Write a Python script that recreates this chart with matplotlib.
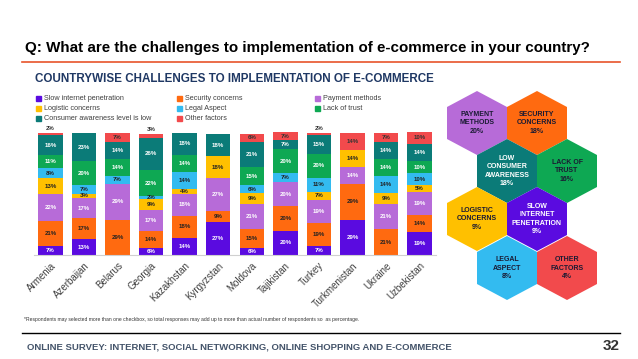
import matplotlib
matplotlib.use('Agg')
import matplotlib.pyplot as plt
from matplotlib.patches import Polygon, Rectangle
import numpy as np

# Data ----
countries = ['Armenia', 'Azerbaijan', 'Belarus', 'Georgia', 'Kazakhstan', 'Kyrgyzstan',
             'Moldova', 'Tajikistan', 'Turkey', 'Turkmenistan', 'Ukraine', 'Uzbekistan']
series_names = ['Slow internet penetration', 'Security concerns', 'Payment methods',
                'Logistic concerns', 'Legal Aspect', 'Lack of trust',
                'Consumer awareness level is low', 'Other factors']
slow = [7, 13, 0, 6, 14, 27, 6, 20, 7, 29, 0, 19]
security = [21, 17, 29, 14, 18, 9, 15, 20, 19, 29, 21, 14]
payment = [22, 17, 29, 17, 18, 27, 21, 20, 19, 14, 21, 19]
logistic = [13, 3, 0, 9, 4, 18, 9, 0, 7, 14, 9, 5]
legal = [8, 7, 7, 2, 14, 0, 6, 7, 11, 0, 14, 10]
trust = [11, 20, 14, 22, 14, 0, 15, 20, 20, 0, 14, 10]
awareness = [16, 23, 14, 26, 18, 18, 21, 7, 15, 0, 14, 14]
other = [2, 0, 7, 3, 0, 0, 6, 7, 2, 14, 7, 10]
series = [slow, security, payment, logistic, legal, trust, awareness, other]

colors = ['#5a0be0', '#ff6a10', '#b76bd8', '#ffc000', '#33bbf0', '#0ea853', '#0b7b78', '#f24a4c']
label_colors = ['white', '#222222', 'white', '#222222', '#222222', 'white', 'white', '#333333']

hex_labels = ['PAYMENT\nMETHODS', 'SECURITY\nCONCERNS', 'LOW\nCONSUMER\nAWARENESS', 'LACK OF\nTRUST',
              'LOGISTIC\nCONCERNS', 'SLOW\nINTERNET\nPENETRATION', 'LEGAL\nASPECT', 'OTHER\nFACTORS']
hex_values = [20, 18, 18, 16, 9, 9, 8, 4]
hex_colors = ['#b76bd8', '#ff6a10', '#0b7b78', '#0ea853', '#ffc000', '#5a0be0', '#33bbf0', '#f24a4c']
hex_text_colors = ['#1a1a33', '#1a1a33', 'white', '#1a1a33', '#1a1a33', 'white', '#1a1a33', '#1a1a33']

plt.rcParams['font.family'] = ['Liberation Sans', 'DejaVu Sans']

fig = plt.figure(figsize=(6.38, 3.59), dpi=100)

# Background canvas in pixel units ----
canvas = fig.add_axes([0, 0, 1, 1])
canvas.set_xlim(0, 638)
canvas.set_ylim(359, 0)
canvas.axis('off')

canvas.text(25, 48, 'Q: What are the challenges to implementation of e-commerce in your country?',
            fontsize=10.9, fontweight='bold', va='center', ha='left', color='black')
canvas.plot([22, 620], [62, 62], color='#e8542a', lw=1.2)
canvas.text(35, 79, 'COUNTRYWISE CHALLENGES TO IMPLEMENTATION OF E-COMMERCE',
            fontsize=8.4, fontweight='bold', va='center', ha='left', color='#1f3864')

# Legend, row-major like the original
leg_x = [36, 177, 315]
leg_y = [98, 108, 118]
for i, name in enumerate(series_names):
    r, c = i // 3, i % 3
    canvas.add_patch(Rectangle((leg_x[c], leg_y[r] - 2.5), 5, 5, color=colors[i]))
    canvas.text(leg_x[c] + 8, leg_y[r], name, fontsize=5.2, va='center', ha='left', color='#404040')

# Footer
canvas.text(24, 320, '*Respondents may selected more than one checkbox, so total responses may add up to more '
            'than actual number of respondents so  as percentage.',
            fontsize=3.6, va='center', ha='left', color='#333333')
canvas.plot([22, 620], [333, 333], color='black', lw=1.0)
canvas.text(27, 347, 'ONLINE SURVEY: INTERNET, SOCIAL NETWORKING, ONLINE SHOPPING AND E-COMMERCE',
            fontsize=6.8, fontweight='bold', va='center', ha='left', color='#44546a')
canvas.text(620, 346, '32', fontsize=11, fontweight='bold', va='center', ha='right', color='#333333')

# Hexagons
hex_centers = [(477, 123), (537, 123), (507, 171), (567, 171),
               (477, 219), (537, 219), (507, 268), (567, 268)]
w, r = 30, 32
for (cx, cy), lab, val, col, tcol in zip(hex_centers, hex_labels, hex_values, hex_colors, hex_text_colors):
    verts = [(cx, cy - r), (cx + w, cy - r / 2), (cx + w, cy + r / 2),
             (cx, cy + r), (cx - w, cy + r / 2), (cx - w, cy - r / 2)]
    canvas.add_patch(Polygon(verts, closed=True, facecolor=col, edgecolor='none'))
    canvas.text(cx, cy, lab + '\n' + str(val) + '%', fontsize=5.0, fontweight='bold',
                ha='center', va='center', color=tcol, linespacing=1.25)

# Stacked bars ----
ax = fig.add_axes([33.75 / 638, 104 / 359, 402.5 / 638, 134.2 / 359])
x = np.arange(len(countries))
bottom = np.zeros(len(countries))
for k, vals in enumerate(series):
    vals = np.array(vals, dtype=float)
    ax.bar(x, vals, bottom=bottom, width=0.73, color=colors[k], label=series_names[k])
    for i, v in enumerate(vals):
        if v <= 0:
            continue
        if k == len(series) - 1 and v <= 3:
            ax.text(x[i], bottom[i] + v + 1.5, '%d%%' % v, ha='center', va='bottom',
                    fontsize=4.4, fontweight='bold', color='#333333')
        else:
            ax.text(x[i], bottom[i] + v / 2, '%d%%' % v, ha='center', va='center',
                    fontsize=4.4, fontweight='bold', color=label_colors[k])
    bottom += vals

ax.set_xlim(-0.5, len(countries) - 0.5)
ax.set_ylim(0, 110)
ax.set_yticks([])
ax.set_xticks(x)
ax.set_xticklabels(countries, rotation=45, ha='right', rotation_mode='anchor',
                   fontsize=7, color='#404040')
ax.tick_params(axis='x', length=0, pad=4)
for s in ['top', 'right', 'left']:
    ax.spines[s].set_visible(False)
ax.spines['bottom'].set_color('#d0d0d0')
ax.patch.set_alpha(0)

fig.savefig('out.png', dpi=100)
